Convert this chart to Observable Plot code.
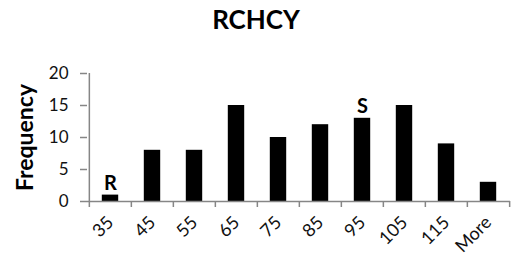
<!DOCTYPE html>
<html><head><meta charset="utf-8">
<script src="https://cdn.jsdelivr.net/npm/d3@7"></script>
<script src="https://cdn.jsdelivr.net/npm/@observablehq/plot@0.6"></script>
<style>
body{margin:0;background:#fff;font-family:Lato,"Open Sans",sans-serif;}
#wrap{position:relative;width:512px;height:266px;}
#title{position:absolute;left:0;top:6px;width:512px;text-align:center;font-weight:bold;font-size:26px;line-height:1;color:#000;z-index:1;}
</style></head>
<body><div id="wrap"><div id="title">RCHCY</div></div>
<script>
const bins = ["35","45","55","65","75","85","95","105","115","More"];
const frequency = [1,8,8,15,10,12,13,15,9,3];
const yTicks = [0,5,10,15,20];
const annotations = [{bin:"35", label:"R"},{bin:"95", label:"S"}];

const data = bins.map((b,i)=>({bin:b, value:frequency[i]}));
const ann = annotations.map(a=>({...a, value: frequency[bins.indexOf(a.bin)]}));
const W=512, H=266, mL=87, mR=2, mT=73, mB=65;
const step=(W-mL-mR)/bins.length;
const axisColor="#868686";

const chart = Plot.plot({
  width:W, height:H, marginLeft:mL, marginRight:mR, marginTop:mT, marginBottom:mB,
  style:{fontFamily:"Lato, 'Open Sans', sans-serif", background:"transparent"},
  x:{domain:bins, padding:0, axis:null},
  y:{domain:[0,20], axis:null},
  marks:[
    Plot.barY(data,{x:"bin", y:"value", fill:"#000", insetLeft:12.8, insetRight:12.8}),
    Plot.ruleY([0],{stroke:axisColor, strokeWidth:1.5}),
    Plot.ruleX([0],{x:()=>bins[0], dx:-step/2, y1:0, y2:20, stroke:axisColor, strokeWidth:1.5}),
    Plot.axisY({ticks:yTicks, tickSize:7, stroke:axisColor, strokeWidth:1.5, tickPadding:12, fontSize:17, fill:"#111", label:null}),
    Plot.axisX({tickSize:6, dx:-step/2, text:null, stroke:axisColor, strokeWidth:1.5, label:null}),
    Plot.axisX({ticks:[bins[bins.length-1]], tickSize:6, dx:step/2, text:null, stroke:axisColor, strokeWidth:1.5, label:null}),
    Plot.axisX({tickSize:0, tickRotate:-45, tickPadding:18, fontSize:18, fill:"#111", label:null}),
    Plot.text(ann,{x:"bin", y:"value", text:"label", lineAnchor:"bottom", dy:-5, fontSize:20, fontWeight:"bold", fill:"#000"}),
    Plot.text(["Frequency"],{frameAnchor:"left", y:()=>10, dx:-62, rotate:-90, textAnchor:"middle", lineAnchor:"middle", text:d=>d, fontSize:23, fontWeight:"bold", fill:"#000"})
  ]
});
chart.style.position="absolute"; chart.style.left="0"; chart.style.top="0";
document.getElementById("wrap").appendChild(chart);
</script></body></html>
